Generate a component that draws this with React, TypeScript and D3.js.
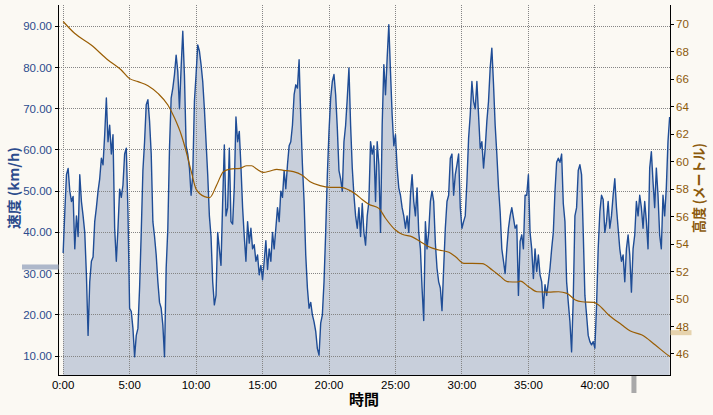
import * as d3 from "d3";

// speed (km/h), one reading every 7.5 s, split into four stretches of the ride
const speedPart1 = [
  35, 45, 54, 55.5, 50, 47.5, 48.7, 36, 44, 39,
  54, 47.5, 44, 40, 29.7, 15, 28, 33, 34, 42.6,
  46, 50, 53, 58, 56.4, 63.7, 72.6, 62, 66, 59,
  63.7, 41, 33, 41, 50.5, 48.5, 51.5, 59, 60.4, 45,
  21.6, 20.8, 16.7, 9.8, 15, 16.7, 26.5, 40, 55, 62,
  71, 72.2, 67, 59, 42.6, 39, 34.5, 28, 23, 21.6,
  17.5, 9.8, 31.3, 41, 60.4, 72.6, 75, 78.3, 83, 79,
  70, 80, 88.8, 78, 61, 59, 55.6, 49, 54, 71.8,
  78.3, 85.5, 84, 80.7, 76.6, 70, 62, 54, 44, 39,
];
const speedPart2 = [
  28, 22.4, 24.7, 40, 36, 32, 47.5, 61.2, 44, 46,
  60.4, 42.6, 42, 51, 68, 62, 64.5, 56, 46, 39,
  33, 42.6, 37.4, 41, 36, 37, 33, 34.5, 29.7, 32,
  28.5, 33, 38, 31, 36, 33, 40, 36, 41, 46,
  42.6, 50, 48.5, 55, 50.6, 56.4, 61, 62, 66, 73.4,
  75.8, 75, 81.9, 68, 56.4, 47.5, 34.5, 26.5, 21.6, 23,
  20, 18.3, 16, 11.8, 10.2, 18, 20, 28, 40, 54,
  64.5, 72.6, 76.6, 78.3, 73.4, 65.3, 55, 53, 50, 62,
  66, 72.6, 79.9, 66, 55.6, 49, 44, 41, 46, 39,
  47,
];
const speedPart3 = [
  40, 36.9, 44, 47.5, 62, 59, 61, 47.5, 62, 56.4,
  40, 66, 80.7, 73.4, 82.3, 90.4, 79, 68.5, 61, 63.7,
  55.6, 50.8, 49, 46, 44, 41, 44, 40, 49, 54,
  47.5, 44, 50.8, 40, 36, 26.5, 18.6, 42.6, 36, 40,
  47.5, 50, 47.5, 37.4, 31.3, 28, 26.5, 21, 31.3, 41,
  47.5, 49, 58, 59, 49, 54, 56.4, 59, 46, 41,
  42.6, 44, 52.3, 62.8, 68.5, 76.6, 71.8, 70, 76.6, 68.5,
  60.4, 62, 55.6, 60.4, 67, 71.8, 79.9, 84.7, 76, 66,
  59, 51, 45, 36, 33, 30, 36, 41, 44, 46,
  43.5, 41,
];
const speedPart4 = [
  41.8, 24.7, 37.8, 39.4, 36, 49, 49, 54, 40, 36,
  28.8, 36, 30.5, 34.5, 29.7, 28, 21.6, 27.3, 24.7, 28,
  31.3, 36, 40, 50, 57, 58, 57, 59, 47, 42.6,
  28, 23, 18.3, 11, 24, 44, 46, 55, 56.4, 54,
  40, 24.7, 20, 15, 13.5, 12.7, 13.5, 11.9, 22, 36,
  45, 49, 48, 40, 42.6, 47.5, 41, 44, 49, 53,
  46, 41, 36, 33, 34.5, 28, 36, 39.4, 34.5, 25.5,
  36, 39.4, 47.5, 44, 49, 46, 41, 47.5, 42.6, 36,
  55.6, 59.6, 52.3, 46, 55.6, 49, 39.4, 36, 49, 44,
  50.8, 62, 68,
];
const SPEED_STEP_MIN = 0.125;

// elevation (m) against elapsed minutes
const elevMinutes = [
  0, 0.86, 2.11, 3.37, 4.37, 4.97, 5.63, 6.38, 7.13, 7.88, 8.39, 8.89, 9.26,
  9.64, 10.0, 10.64, 11.02, 11.55, 12.05, 12.55, 13.31, 13.81, 14.18, 14.56,
  15.06, 15.57, 16.07, 16.57, 17.32, 17.95, 18.58, 19.33, 20.08, 20.84, 21.59,
  22.09, 22.49, 22.99, 23.75, 24.25, 25.0, 25.5, 26.26, 26.88, 27.51, 28.26,
  29.02, 29.52, 30.15, 30.77, 31.53, 32.28, 32.91, 33.41, 34.16, 34.39, 35.01,
  35.64, 36.52, 37.27, 37.9, 38.53, 39.03, 39.91, 40.28, 41.04, 42.04, 42.67,
  43.55, 44.55, 45.56, 45.69,
];
const elevMeters = [
  70.2, 69.34, 68.49, 67.4, 66.67, 66.06, 65.82, 65.53, 64.97, 64.12, 63.15,
  61.94, 60.72, 59.27, 58.0, 57.45, 57.38, 58.3, 59.27, 59.46, 59.51, 59.7,
  59.7, 59.46, 59.22, 59.32, 59.44, 59.37, 59.27, 59.03, 58.54, 58.25, 58.13,
  58.13, 57.89, 57.57, 57.25, 56.9, 56.6, 55.88, 55.02, 54.71, 54.52, 54.17,
  53.81, 53.57, 53.4, 53.08, 52.6, 52.6, 52.58, 52.11, 51.63, 51.26, 51.24,
  51.3, 50.9, 50.53, 50.5, 50.53, 50.41, 49.93, 49.8, 49.76, 49.57, 48.84,
  48.11, 47.67, 47.38, 46.65, 45.88, 45.8,
];

const speedTicks = [10, 20, 30, 40, 50, 60, 70, 80, 90];
const elevTicks = [46, 48, 50, 52, 54, 56, 58, 60, 62, 64, 66, 68, 70];
const timeTicks = [0, 5, 10, 15, 20, 25, 30, 35, 40];

// little markers on the axes
const speedMarker = 31.6;
const elevMarker = 47.55;
const timeMarker = 42.94;

const BG = "#fbf9f3";
const SPEED_COLOR = "#1f4d96";
const SPEED_FILL = "#c8cfdb";
const ELEV_COLOR = "#9a5e04";
const LABEL_BLUE = "#2c4c8d";
const LABEL_BROWN = "#8c5a0c";
const FONT = "'Liberation Sans', 'Noto Sans CJK JP', sans-serif";
const JP_FONT = "'Noto Sans CJK JP', sans-serif";

const crisp = (v: number) => Math.floor(v) + 0.5;

export default function App() {
  const width = 713;
  const height = 415;
  const plot = { left: 58.5, right: 670.5, top: 5, bottom: 375 };

  const speedKmh = [...speedPart1, ...speedPart2, ...speedPart3, ...speedPart4];
  const speedData = speedKmh.map((v, i) => ({ t: i * SPEED_STEP_MIN, v }));
  const elevData = elevMinutes.map((t, i) => ({ t, h: elevMeters[i] }));

  const x = d3.scaleLinear().domain([-0.35, 45.69]).range([plot.left, plot.right]);
  const y = d3.scaleLinear().domain([5.39, 95.17]).range([plot.bottom, plot.top]);
  const y2 = d3.scaleLinear().domain([44.47, 71.4]).range([plot.bottom, plot.top]);

  const area = d3
    .area<{ t: number; v: number }>()
    .x((d) => x(d.t))
    .y0(plot.bottom)
    .y1((d) => y(d.v));
  const speedLine = d3
    .line<{ t: number; v: number }>()
    .x((d) => x(d.t))
    .y((d) => y(d.v));
  const elevLine = d3
    .line<{ t: number; h: number }>()
    .x((d) => x(d.t))
    .y((d) => y2(d.h))
    .curve(d3.curveMonotoneX);

  const fmtTime = (m: number) => `${m}:00`;

  return (
    <div style={{ position: "absolute", left: 0, top: 0 }}>
      <svg width={width} height={height} style={{ display: "block", background: BG }}>
        <defs>
          <clipPath id="plot-clip">
            <rect x={plot.left} y={plot.top} width={plot.right - plot.left} height={plot.bottom - plot.top} />
          </clipPath>
        </defs>
        <rect x={0} y={0} width={width} height={height} fill={BG} />

        <g clipPath="url(#plot-clip)">
          <path d={area(speedData) || ""} fill={SPEED_FILL} />
        </g>

        {/* grid */}
        <g stroke="#858585" strokeWidth={1} strokeDasharray="1,1" shapeRendering="crispEdges">
          {speedTicks.map((t) => (
            <line key={`h${t}`} x1={plot.left} x2={plot.right} y1={crisp(y(t))} y2={crisp(y(t))} />
          ))}
          {timeTicks.map((t) => (
            <line key={`v${t}`} x1={crisp(x(t))} x2={crisp(x(t))} y1={plot.top} y2={plot.bottom} />
          ))}
        </g>

        <g clipPath="url(#plot-clip)">
          <path d={speedLine(speedData) || ""} fill="none" stroke={SPEED_COLOR} strokeWidth={1.4} strokeLinejoin="round" />
          <path d={elevLine(elevData) || ""} fill="none" stroke={ELEV_COLOR} strokeWidth={1.2} />
        </g>

        {/* axes */}
        <g stroke="#000" strokeWidth={1} shapeRendering="crispEdges">
          <line x1={plot.left} x2={plot.left} y1={plot.top} y2={plot.bottom + 0.5} />
          <line x1={plot.right} x2={plot.right} y1={plot.top} y2={plot.bottom + 0.5} />
          <line x1={plot.left} x2={plot.right} y1={plot.bottom + 0.5} y2={plot.bottom + 0.5} />
          {speedTicks.map((t) => (
            <line key={`lt${t}`} x1={plot.left - 3.5} x2={plot.left} y1={crisp(y(t))} y2={crisp(y(t))} />
          ))}
          {elevTicks.map((t) => (
            <line key={`rt${t}`} x1={plot.right} x2={plot.right + 3.5} y1={crisp(y2(t))} y2={crisp(y2(t))} />
          ))}
        </g>

        {/* markers */}
        <rect x={22} y={y(speedMarker) - 2.5} width={plot.left - 22} height={5} fill="#aeb8ca" />
        <rect x={plot.right} y={y2(elevMarker) - 2.5} width={21} height={5} fill="#e6d3ad" />
        <rect x={x(timeMarker) - 2.5} y={plot.bottom + 1} width={5} height={17} fill="#a9a9a9" />

        {/* tick labels */}
        <g fontFamily={FONT} fontSize={11.5} fill={LABEL_BLUE} textAnchor="end">
          {speedTicks.map((t) => (
            <text key={`ll${t}`} x={52} y={y(t) + 4}>
              {t.toFixed(2)}
            </text>
          ))}
        </g>
        <g fontFamily={FONT} fontSize={11.5} fill={LABEL_BROWN} textAnchor="start">
          {elevTicks.map((t) => (
            <text key={`rl${t}`} x={676} y={y2(t) + 4.2}>
              {t}
            </text>
          ))}
        </g>
        <g fontFamily={FONT} fontSize={11.5} fill="#000" textAnchor="middle">
          {timeTicks.map((t) => (
            <text key={`bl${t}`} x={x(t)} y={389}>
              {fmtTime(t)}
            </text>
          ))}
        </g>

        {/* axis titles */}
        <text x={364} y={405} textAnchor="middle" fontFamily={JP_FONT} fontWeight="bold" fontSize={15} fill="#000">
          時間
        </text>
        <text
          transform="translate(19,188) rotate(-90)"
          textAnchor="middle"
          fontFamily={JP_FONT}
          fontWeight="bold"
          fontSize={14}
          fill={LABEL_BLUE}
          textLength={82}
          lengthAdjust="spacingAndGlyphs"
        >
          速度 (km/h)
        </text>
        <text
          transform="translate(704,188) rotate(-90)"
          textAnchor="middle"
          fontFamily={JP_FONT}
          fontWeight="bold"
          fontSize={14}
          fill={LABEL_BROWN}
          textLength={90}
          lengthAdjust="spacingAndGlyphs"
        >
          高度 (メートル)
        </text>
      </svg>
    </div>
  );
}
